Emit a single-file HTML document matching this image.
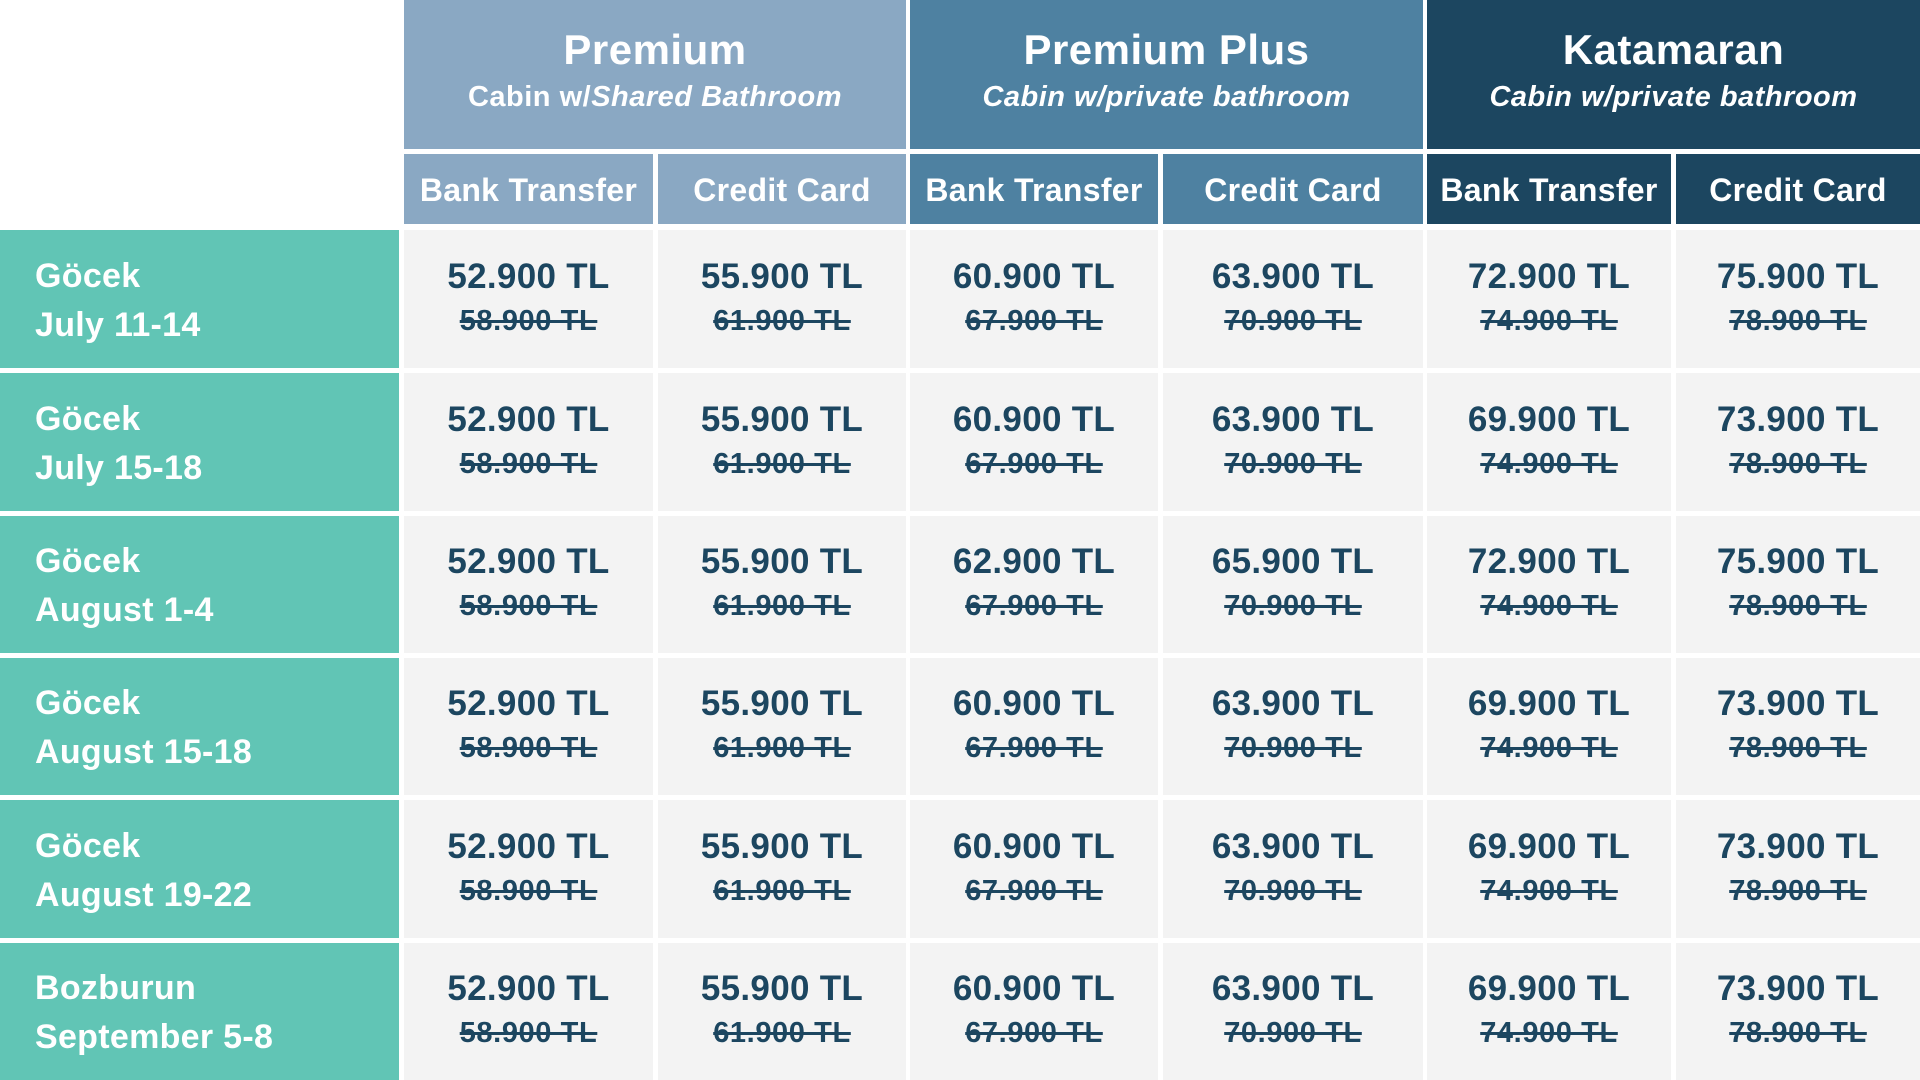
<!DOCTYPE html>
<html><head><meta charset="utf-8">
<style>
body{margin:0;width:1920px;height:1080px;background:#fff;position:relative;overflow:hidden;font-family:"Liberation Sans",sans-serif;}
.b{position:absolute;display:flex;flex-direction:column;align-items:center;justify-content:center;text-align:center;}
.g1{background:#8aa8c3}.g2{background:#4e81a1}.g3{background:#1c4660}
.gh{color:#fff}
.gh .t{font-weight:bold;font-size:42px;line-height:48px;letter-spacing:0.5px;margin-top:-8px}
.gh .s{font-weight:bold;font-style:italic;font-size:29px;line-height:38px;letter-spacing:0.5px;margin-top:4px}
.sh{color:#fff;font-weight:bold;font-size:32px;letter-spacing:0.3px;padding-top:2px;box-sizing:border-box}
.lab{position:absolute;background:#61c5b5;color:#fff;font-weight:bold;font-size:34px;line-height:49px;display:flex;flex-direction:column;justify-content:center;padding-left:35px;padding-top:3px;box-sizing:border-box;width:399px;left:0;letter-spacing:0.3px}
.c{background:#f3f3f3;color:#1c4660}
.c .p{font-size:35px;line-height:44px;font-weight:bold;letter-spacing:0.3px;margin-top:-4px}
.c .o{font-size:29px;line-height:38px;font-weight:bold;letter-spacing:0.6px;text-decoration:line-through;text-decoration-thickness:3px;margin-top:3px}
</style></head><body>
<div class="b gh g1" style="left:404px;top:0;width:502px;height:149px"><div class="t">Premium</div><div class="s"><span style="font-style:normal">Cabin w/</span>Shared Bathroom</div></div>
<div class="b gh g2" style="left:910px;top:0;width:513px;height:149px"><div class="t">Premium Plus</div><div class="s">Cabin w/private bathroom</div></div>
<div class="b gh g3" style="left:1427px;top:0;width:493px;height:149px"><div class="t">Katamaran</div><div class="s">Cabin w/private bathroom</div></div>

<div class="b sh g1" style="left:404px;top:154px;width:249px;height:70px">Bank Transfer</div>
<div class="b sh g1" style="left:658px;top:154px;width:248px;height:70px">Credit Card</div>
<div class="b sh g2" style="left:910px;top:154px;width:248px;height:70px">Bank Transfer</div>
<div class="b sh g2" style="left:1163px;top:154px;width:260px;height:70px">Credit Card</div>
<div class="b sh g3" style="left:1427px;top:154px;width:244px;height:70px">Bank Transfer</div>
<div class="b sh g3" style="left:1676px;top:154px;width:244px;height:70px">Credit Card</div>

<!-- row 1 -->
<div class="lab" style="top:230px;height:138px"><div>Göcek</div><div>July 11-14</div></div>
<div class="b c" style="left:404px;top:230px;width:249px;height:138px"><div class="p">52.900 TL</div><div class="o">58.900 TL</div></div>
<div class="b c" style="left:658px;top:230px;width:248px;height:138px"><div class="p">55.900 TL</div><div class="o">61.900 TL</div></div>
<div class="b c" style="left:910px;top:230px;width:248px;height:138px"><div class="p">60.900 TL</div><div class="o">67.900 TL</div></div>
<div class="b c" style="left:1163px;top:230px;width:260px;height:138px"><div class="p">63.900 TL</div><div class="o">70.900 TL</div></div>
<div class="b c" style="left:1427px;top:230px;width:244px;height:138px"><div class="p">72.900 TL</div><div class="o">74.900 TL</div></div>
<div class="b c" style="left:1676px;top:230px;width:244px;height:138px"><div class="p">75.900 TL</div><div class="o">78.900 TL</div></div>
<!-- row 2 -->
<div class="lab" style="top:373px;height:138px"><div>Göcek</div><div>July 15-18</div></div>
<div class="b c" style="left:404px;top:373px;width:249px;height:138px"><div class="p">52.900 TL</div><div class="o">58.900 TL</div></div>
<div class="b c" style="left:658px;top:373px;width:248px;height:138px"><div class="p">55.900 TL</div><div class="o">61.900 TL</div></div>
<div class="b c" style="left:910px;top:373px;width:248px;height:138px"><div class="p">60.900 TL</div><div class="o">67.900 TL</div></div>
<div class="b c" style="left:1163px;top:373px;width:260px;height:138px"><div class="p">63.900 TL</div><div class="o">70.900 TL</div></div>
<div class="b c" style="left:1427px;top:373px;width:244px;height:138px"><div class="p">69.900 TL</div><div class="o">74.900 TL</div></div>
<div class="b c" style="left:1676px;top:373px;width:244px;height:138px"><div class="p">73.900 TL</div><div class="o">78.900 TL</div></div>
<!-- row 3 -->
<div class="lab" style="top:516px;height:137px"><div>Göcek</div><div>August 1-4</div></div>
<div class="b c" style="left:404px;top:516px;width:249px;height:137px"><div class="p">52.900 TL</div><div class="o">58.900 TL</div></div>
<div class="b c" style="left:658px;top:516px;width:248px;height:137px"><div class="p">55.900 TL</div><div class="o">61.900 TL</div></div>
<div class="b c" style="left:910px;top:516px;width:248px;height:137px"><div class="p">62.900 TL</div><div class="o">67.900 TL</div></div>
<div class="b c" style="left:1163px;top:516px;width:260px;height:137px"><div class="p">65.900 TL</div><div class="o">70.900 TL</div></div>
<div class="b c" style="left:1427px;top:516px;width:244px;height:137px"><div class="p">72.900 TL</div><div class="o">74.900 TL</div></div>
<div class="b c" style="left:1676px;top:516px;width:244px;height:137px"><div class="p">75.900 TL</div><div class="o">78.900 TL</div></div>
<!-- row 4 -->
<div class="lab" style="top:658px;height:137px"><div>Göcek</div><div>August 15-18</div></div>
<div class="b c" style="left:404px;top:658px;width:249px;height:137px"><div class="p">52.900 TL</div><div class="o">58.900 TL</div></div>
<div class="b c" style="left:658px;top:658px;width:248px;height:137px"><div class="p">55.900 TL</div><div class="o">61.900 TL</div></div>
<div class="b c" style="left:910px;top:658px;width:248px;height:137px"><div class="p">60.900 TL</div><div class="o">67.900 TL</div></div>
<div class="b c" style="left:1163px;top:658px;width:260px;height:137px"><div class="p">63.900 TL</div><div class="o">70.900 TL</div></div>
<div class="b c" style="left:1427px;top:658px;width:244px;height:137px"><div class="p">69.900 TL</div><div class="o">74.900 TL</div></div>
<div class="b c" style="left:1676px;top:658px;width:244px;height:137px"><div class="p">73.900 TL</div><div class="o">78.900 TL</div></div>
<!-- row 5 -->
<div class="lab" style="top:800px;height:138px"><div>Göcek</div><div>August 19-22</div></div>
<div class="b c" style="left:404px;top:800px;width:249px;height:138px"><div class="p">52.900 TL</div><div class="o">58.900 TL</div></div>
<div class="b c" style="left:658px;top:800px;width:248px;height:138px"><div class="p">55.900 TL</div><div class="o">61.900 TL</div></div>
<div class="b c" style="left:910px;top:800px;width:248px;height:138px"><div class="p">60.900 TL</div><div class="o">67.900 TL</div></div>
<div class="b c" style="left:1163px;top:800px;width:260px;height:138px"><div class="p">63.900 TL</div><div class="o">70.900 TL</div></div>
<div class="b c" style="left:1427px;top:800px;width:244px;height:138px"><div class="p">69.900 TL</div><div class="o">74.900 TL</div></div>
<div class="b c" style="left:1676px;top:800px;width:244px;height:138px"><div class="p">73.900 TL</div><div class="o">78.900 TL</div></div>
<!-- row 6 -->
<div class="lab" style="top:943px;height:137px"><div>Bozburun</div><div>September 5-8</div></div>
<div class="b c" style="left:404px;top:943px;width:249px;height:137px"><div class="p">52.900 TL</div><div class="o">58.900 TL</div></div>
<div class="b c" style="left:658px;top:943px;width:248px;height:137px"><div class="p">55.900 TL</div><div class="o">61.900 TL</div></div>
<div class="b c" style="left:910px;top:943px;width:248px;height:137px"><div class="p">60.900 TL</div><div class="o">67.900 TL</div></div>
<div class="b c" style="left:1163px;top:943px;width:260px;height:137px"><div class="p">63.900 TL</div><div class="o">70.900 TL</div></div>
<div class="b c" style="left:1427px;top:943px;width:244px;height:137px"><div class="p">69.900 TL</div><div class="o">74.900 TL</div></div>
<div class="b c" style="left:1676px;top:943px;width:244px;height:137px"><div class="p">73.900 TL</div><div class="o">78.900 TL</div></div>
</body></html>
